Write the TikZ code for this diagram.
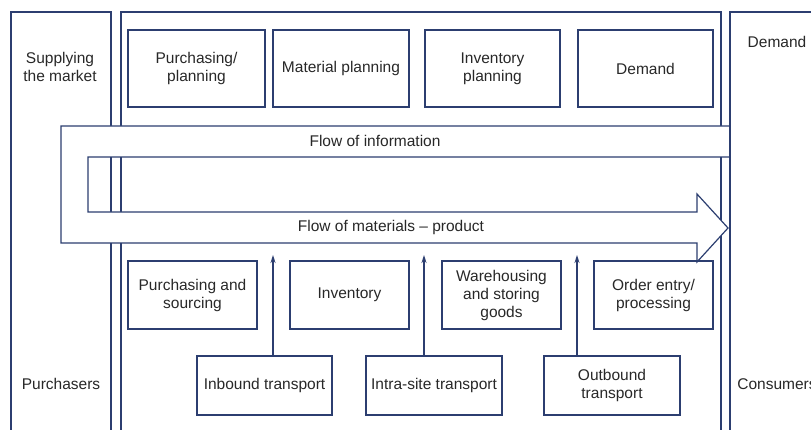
\documentclass[tikz,border=0pt]{standalone}
\usepackage{fontspec}
\setmainfont{Liberation Sans}
\usetikzlibrary{arrows.meta}
\definecolor{navy}{RGB}{44,62,112}
\definecolor{txt}{RGB}{40,40,40}

\begin{document}
\begin{tikzpicture}[x=1pt,y=-1pt,font=\fontsize{15.5}{18}\selectfont,text=txt,line width=1.2pt,
	box/.style={draw=navy,align=center,inner sep=2pt},
	top/.style={box,minimum height=77},
	mid/.style={box,minimum width=119,minimum height=68},
	low/.style={box,minimum width=136,minimum height=59},
	panel/.style={draw=navy},
	up/.style={draw=navy,-{Stealth[length=8pt,width=5pt]}}]
	\useasboundingbox (0,0) rectangle (811,430);
	\clip (0,0) rectangle (811,430);
	\fill[white] (0,0) rectangle (811,430);
	
	\draw[panel] (11,440)--(11,12)--(111,12)--(111,440);
	\draw[panel] (121,440)--(121,12)--(721,12)--(721,440);
	\draw[panel,fill=white] (730,126)--(61,126)--(61,243)--(697,243)--(697,262)--(728,228)--(697,194)--(697,212)--(88,212)--(88,157)--(730,157);
	\draw[panel] (730,440)--(730,12)--(830,12);
	
	\node[align=center] (SM) at (60,67) {Supplying\\the market};
	\node (PU) at (61,384) {Purchasers};
	\node (DE) at (777,42) {Demand};
	\node (CO) at (777,384) {Consumers};
	\node (FI) at (375,141) {Flow of information};
	\node (FM) at (391,227) {Flow of materials -- product};
	
	\node[top,minimum width=137] (P) at (196.5,68.5) {Purchasing/\\planning};
	\node[top,minimum width=136] (M) at (341,68.5) {Material planning};
	\node[top,minimum width=135] (I) at (492.5,68.5) {Inventory\\planning};
	\node[top,minimum width=135] (D) at (645.5,68.5) {Demand};
	
	\node[mid,minimum width=129] (S) at (192.5,295) {Purchasing and\\sourcing};
	\node[mid] (V) at (349.5,295) {Inventory};
	\node[mid] (W) at (501.5,295) {Warehousing\\and storing\\goods};
	\node[mid] (O) at (653.5,295) {Order entry/\\processing};
	
	\node[low,minimum width=135] (IB) at (264.5,385.5) {Inbound transport};
	\node[low] (IS) at (434,385.5) {Intra-site transport};
	\node[low] (OB) at (612,385.5) {Outbound\\transport};
	
	\coordinate (t1) at (273,255);
	\coordinate (t2) at (424,255);
	\coordinate (t3) at (577,255);
	\draw[up] (t1 |- IB.north)--(t1);
	\draw[up] (t2 |- IS.north)--(t2);
	\draw[up] (t3 |- OB.north)--(t3);
\end{tikzpicture}
\end{document}
